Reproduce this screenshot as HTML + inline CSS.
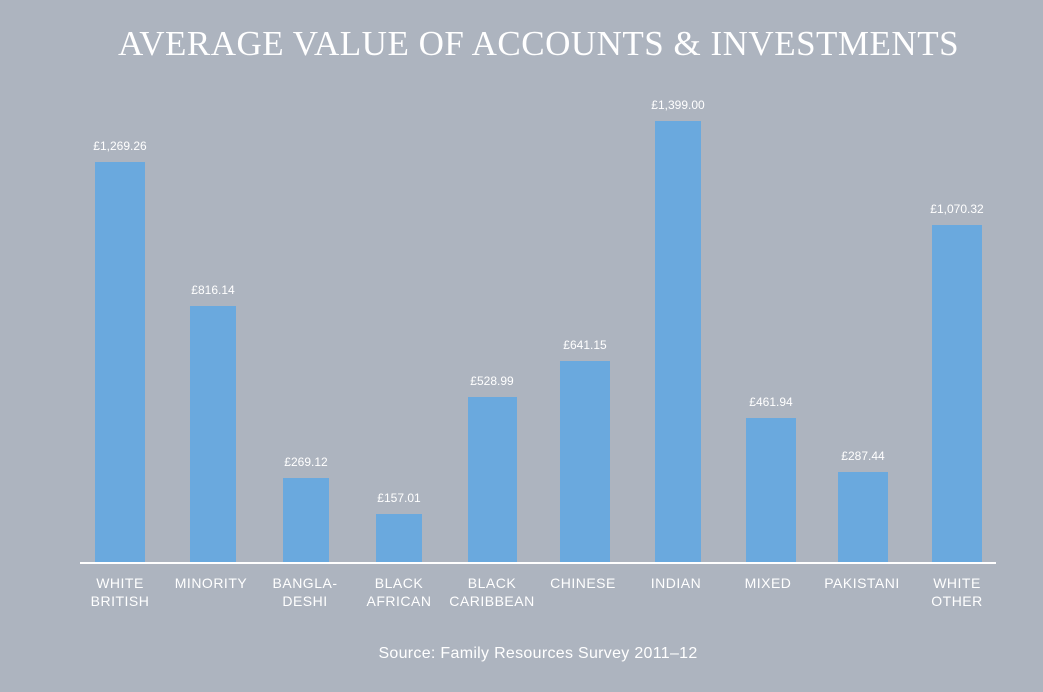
<!DOCTYPE html>
<html><head><meta charset="utf-8"><style>
html,body{margin:0;padding:0}
body{width:1043px;height:692px;background:#adb4bf;position:relative;overflow:hidden;font-family:"Liberation Sans",sans-serif;color:#fff}
.t{position:absolute;left:17px;width:1043px;top:24px;text-align:center;font-family:"Liberation Serif",serif;font-size:35px;letter-spacing:0.5px}
.b{position:absolute;background:#6aa9de;bottom:130px}
.v{position:absolute;font-size:12px;text-align:center;width:100px}
.c{position:absolute;top:574px;font-size:14px;line-height:18px;text-align:center;width:110px;letter-spacing:0.5px}
.axis{position:absolute;left:80px;width:916px;top:562px;height:2px;background:#fff}
.s{position:absolute;top:645px;left:0;width:1076px;text-align:center;font-size:16px;letter-spacing:0.3px}
</style></head><body>
<div class="t">AVERAGE VALUE OF ACCOUNTS &amp; INVESTMENTS</div>

<div class="b" style="left:95px;width:50px;top:162px"></div><div class="v" style="left:70px;top:139px">£1,269.26</div>
<div class="b" style="left:190px;width:46px;top:306px"></div><div class="v" style="left:163px;top:283px">£816.14</div>
<div class="b" style="left:283px;width:46px;top:478px"></div><div class="v" style="left:256px;top:455px">£269.12</div>
<div class="b" style="left:376px;width:46px;top:514px"></div><div class="v" style="left:349px;top:491px">£157.01</div>
<div class="b" style="left:468px;width:49px;top:397px"></div><div class="v" style="left:442px;top:374px">£528.99</div>
<div class="b" style="left:560px;width:50px;top:361px"></div><div class="v" style="left:535px;top:338px">£641.15</div>
<div class="b" style="left:655px;width:46px;top:121px"></div><div class="v" style="left:628px;top:98px">£1,399.00</div>
<div class="b" style="left:746px;width:50px;top:418px"></div><div class="v" style="left:721px;top:395px">£461.94</div>
<div class="b" style="left:838px;width:50px;top:472px"></div><div class="v" style="left:813px;top:449px">£287.44</div>
<div class="b" style="left:932px;width:50px;top:225px"></div><div class="v" style="left:907px;top:202px">£1,070.32</div>

<div class="axis"></div>

<div class="c" style="left:65px">WHITE<br>BRITISH</div>
<div class="c" style="left:156px">MINORITY</div>
<div class="c" style="left:250px">BANGLA-<br>DESHI</div>
<div class="c" style="left:344px">BLACK<br>AFRICAN</div>
<div class="c" style="left:437px">BLACK<br>CARIBBEAN</div>
<div class="c" style="left:528px">CHINESE</div>
<div class="c" style="left:621px">INDIAN</div>
<div class="c" style="left:713px">MIXED</div>
<div class="c" style="left:807px">PAKISTANI</div>
<div class="c" style="left:902px">WHITE<br>OTHER</div>

<div class="s">Source: Family Resources Survey 2011–12</div>
</body></html>
